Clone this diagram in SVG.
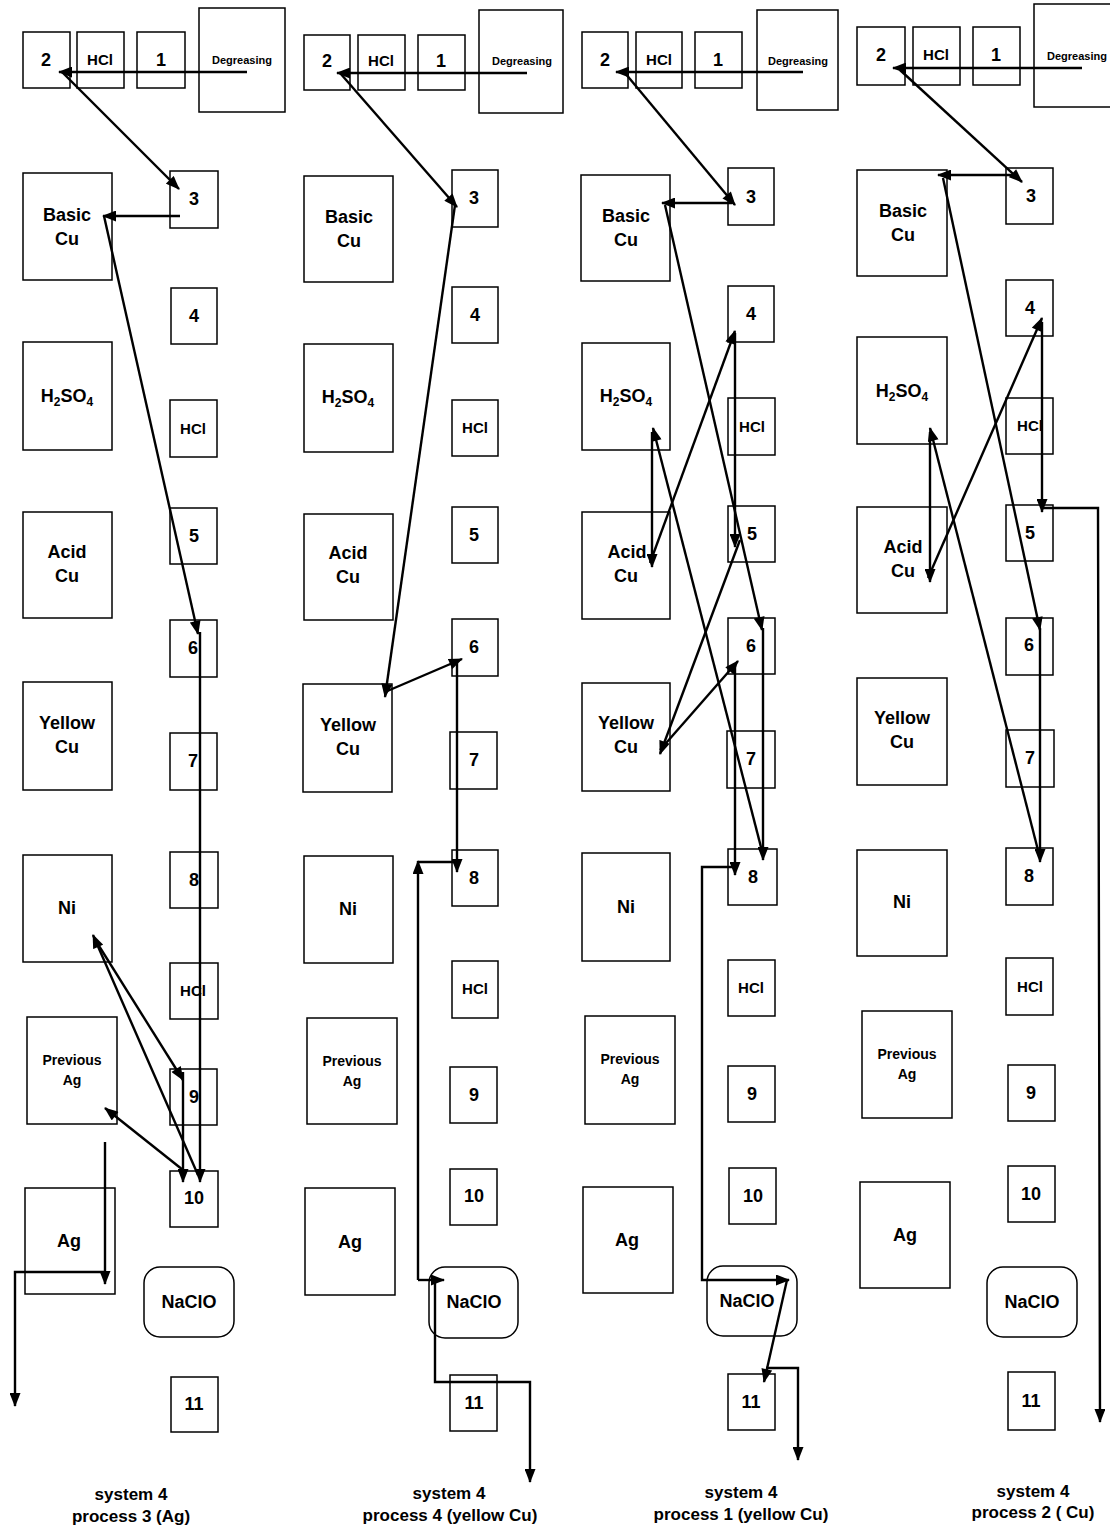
<svg xmlns="http://www.w3.org/2000/svg" width="1110" height="1530" viewBox="0 0 1110 1530">
<style>
.b{fill:#fff;stroke:#000;stroke-width:1.5}
.t{font-family:"Liberation Sans",Arial,sans-serif;font-weight:bold;text-anchor:middle;fill:#000;font-size:18px}
.n{font-size:18px}
.h{font-size:15px}
.d{font-size:11px}
.p{font-size:14px}
.l{font-size:17px}
.c{fill:none;stroke:#000;stroke-width:2.4}
.a{marker-end:url(#ah)}
</style>
<defs>
<marker id="ah" viewBox="0 0 14 11" refX="13" refY="5.5" markerWidth="15" markerHeight="11" markerUnits="userSpaceOnUse" orient="auto"><path d="M0,0 L14,5.5 L0,11 z" fill="#000"/></marker>
</defs>
<rect width="1110" height="1530" fill="#fff"/>

<!-- Column 1 -->
<g id="c1-2"><rect class="b" x="23" y="32" width="47" height="56"/><text class="t n" x="46" y="66">2</text></g>
<g id="c1-hcl0"><rect class="b" x="77" y="32" width="47" height="56"/><text class="t h" x="100" y="65">HCl</text></g>
<g id="c1-1"><rect class="b" x="137" y="32" width="48" height="56"/><text class="t n" x="161" y="66">1</text></g>
<g id="c1-deg"><rect class="b" x="199" y="8" width="86" height="104"/><text class="t d" x="242" y="64">Degreasing</text></g>
<g id="c1-3"><rect class="b" x="170" y="171" width="48" height="57"/><text class="t n" x="194" y="205">3</text></g>
<g id="c1-4"><rect class="b" x="171" y="288" width="46" height="56"/><text class="t n" x="194" y="322">4</text></g>
<g id="c1-hcl1"><rect class="b" x="170" y="400" width="47" height="57"/><text class="t h" x="193" y="434">HCl</text></g>
<g id="c1-5"><rect class="b" x="170" y="508" width="47" height="56"/><text class="t n" x="194" y="542">5</text></g>
<g id="c1-6"><rect class="b" x="170" y="620" width="47" height="57"/><text class="t n" x="193" y="654">6</text></g>
<g id="c1-7"><rect class="b" x="170" y="733" width="47" height="57"/><text class="t n" x="193" y="767">7</text></g>
<g id="c1-8"><rect class="b" x="170" y="852" width="48" height="56"/><text class="t n" x="194" y="886">8</text></g>
<g id="c1-hcl2"><rect class="b" x="170" y="963" width="48" height="56"/><text class="t h" x="193" y="996">HCl</text></g>
<g id="c1-9"><rect class="b" x="170" y="1069" width="47" height="56"/><text class="t n" x="194" y="1103">9</text></g>
<g id="c1-10"><rect class="b" x="170" y="1171" width="48" height="56"/><text class="t n" x="194" y="1204">10</text></g>
<g id="c1-naclo"><rect class="b" x="144" y="1267" width="90" height="70" rx="16"/><text class="t" x="189" y="1308">NaClO</text></g>
<g id="c1-11"><rect class="b" x="171" y="1377" width="47" height="55"/><text class="t n" x="194" y="1410">11</text></g>
<g id="c1-basic"><rect class="b" x="23" y="173" width="89" height="107"/><text class="t" x="67" y="221">Basic</text><text class="t" x="67" y="245">Cu</text></g>
<g id="c1-h2so4"><rect class="b" x="23" y="342" width="89" height="108"/><text class="t" x="67" y="402">H<tspan font-size="12" dy="4">2</tspan><tspan dy="-4">SO</tspan><tspan font-size="12" dy="4">4</tspan></text></g>
<g id="c1-acid"><rect class="b" x="23" y="512" width="89" height="106"/><text class="t" x="67" y="558">Acid</text><text class="t" x="67" y="582">Cu</text></g>
<g id="c1-yellow"><rect class="b" x="23" y="682" width="89" height="108"/><text class="t" x="67" y="729">Yellow</text><text class="t" x="67" y="753">Cu</text></g>
<g id="c1-ni"><rect class="b" x="23" y="855" width="89" height="107"/><text class="t" x="67" y="914">Ni</text></g>
<g id="c1-prev"><rect class="b" x="27" y="1017" width="90" height="107"/><text class="t p" x="72" y="1065">Previous</text><text class="t p" x="72" y="1085">Ag</text></g>
<g id="c1-ag"><rect class="b" x="25" y="1188" width="90" height="106"/><text class="t" x="69" y="1247">Ag</text></g>

<!-- Column 2 -->
<g id="c2-2"><rect class="b" x="304" y="35" width="46" height="55"/><text class="t n" x="327" y="67">2</text></g>
<g id="c2-hcl0"><rect class="b" x="358" y="35" width="47" height="55"/><text class="t h" x="381" y="66">HCl</text></g>
<g id="c2-1"><rect class="b" x="418" y="35" width="47" height="55"/><text class="t n" x="441" y="67">1</text></g>
<g id="c2-deg"><rect class="b" x="479" y="10" width="84" height="103"/><text class="t d" x="522" y="65">Degreasing</text></g>
<g id="c2-3"><rect class="b" x="452" y="170" width="46" height="57"/><text class="t n" x="474" y="204">3</text></g>
<g id="c2-4"><rect class="b" x="452" y="287" width="46" height="56"/><text class="t n" x="475" y="321">4</text></g>
<g id="c2-hcl1"><rect class="b" x="452" y="400" width="46" height="56"/><text class="t h" x="475" y="433">HCl</text></g>
<g id="c2-5"><rect class="b" x="452" y="507" width="46" height="56"/><text class="t n" x="474" y="541">5</text></g>
<g id="c2-6"><rect class="b" x="452" y="619" width="46" height="57"/><text class="t n" x="474" y="653">6</text></g>
<g id="c2-7"><rect class="b" x="450" y="732" width="47" height="57"/><text class="t n" x="474" y="766">7</text></g>
<g id="c2-8"><rect class="b" x="452" y="850" width="46" height="56"/><text class="t n" x="474" y="884">8</text></g>
<g id="c2-hcl2"><rect class="b" x="452" y="961" width="46" height="57"/><text class="t h" x="475" y="994">HCl</text></g>
<g id="c2-9"><rect class="b" x="450" y="1067" width="47" height="56"/><text class="t n" x="474" y="1101">9</text></g>
<g id="c2-10"><rect class="b" x="450" y="1169" width="47" height="56"/><text class="t n" x="474" y="1202">10</text></g>
<g id="c2-naclo"><rect class="b" x="429" y="1267" width="89" height="71" rx="16"/><text class="t" x="474" y="1308">NaClO</text></g>
<g id="c2-11"><rect class="b" x="450" y="1375" width="47" height="56"/><text class="t n" x="474" y="1409">11</text></g>
<g id="c2-basic"><rect class="b" x="304" y="176" width="89" height="106"/><text class="t" x="349" y="223">Basic</text><text class="t" x="349" y="247">Cu</text></g>
<g id="c2-h2so4"><rect class="b" x="304" y="344" width="89" height="108"/><text class="t" x="348" y="403">H<tspan font-size="12" dy="4">2</tspan><tspan dy="-4">SO</tspan><tspan font-size="12" dy="4">4</tspan></text></g>
<g id="c2-acid"><rect class="b" x="304" y="514" width="89" height="106"/><text class="t" x="348" y="559">Acid</text><text class="t" x="348" y="583">Cu</text></g>
<g id="c2-yellow"><rect class="b" x="303" y="684" width="89" height="108"/><text class="t" x="348" y="731">Yellow</text><text class="t" x="348" y="755">Cu</text></g>
<g id="c2-ni"><rect class="b" x="304" y="856" width="89" height="107"/><text class="t" x="348" y="915">Ni</text></g>
<g id="c2-prev"><rect class="b" x="307" y="1018" width="90" height="106"/><text class="t p" x="352" y="1066">Previous</text><text class="t p" x="352" y="1086">Ag</text></g>
<g id="c2-ag"><rect class="b" x="305" y="1188" width="90" height="107"/><text class="t" x="350" y="1248">Ag</text></g>

<!-- Column 3 -->
<g id="c3-2"><rect class="b" x="582" y="32" width="46" height="56"/><text class="t n" x="605" y="66">2</text></g>
<g id="c3-hcl0"><rect class="b" x="636" y="32" width="46" height="56"/><text class="t h" x="659" y="65">HCl</text></g>
<g id="c3-1"><rect class="b" x="695" y="32" width="47" height="56"/><text class="t n" x="718" y="66">1</text></g>
<g id="c3-deg"><rect class="b" x="757" y="10" width="81" height="100"/><text class="t d" x="798" y="65">Degreasing</text></g>
<g id="c3-3"><rect class="b" x="728" y="168" width="46" height="57"/><text class="t n" x="751" y="203">3</text></g>
<g id="c3-4"><rect class="b" x="728" y="286" width="46" height="56"/><text class="t n" x="751" y="320">4</text></g>
<g id="c3-hcl1"><rect class="b" x="728" y="398" width="47" height="57"/><text class="t h" x="752" y="432">HCl</text></g>
<g id="c3-5"><rect class="b" x="728" y="506" width="47" height="56"/><text class="t n" x="752" y="540">5</text></g>
<g id="c3-6"><rect class="b" x="728" y="618" width="47" height="56"/><text class="t n" x="751" y="652">6</text></g>
<g id="c3-7"><rect class="b" x="727" y="731" width="48" height="57"/><text class="t n" x="751" y="765">7</text></g>
<g id="c3-8"><rect class="b" x="728" y="849" width="49" height="56"/><text class="t n" x="753" y="883">8</text></g>
<g id="c3-hcl2"><rect class="b" x="728" y="960" width="47" height="56"/><text class="t h" x="751" y="993">HCl</text></g>
<g id="c3-9"><rect class="b" x="728" y="1066" width="47" height="56"/><text class="t n" x="752" y="1100">9</text></g>
<g id="c3-10"><rect class="b" x="729" y="1168" width="47" height="56"/><text class="t n" x="753" y="1202">10</text></g>
<g id="c3-naclo"><rect class="b" x="707" y="1266" width="90" height="70" rx="16"/><text class="t" x="747" y="1307">NaClO</text></g>
<g id="c3-11"><rect class="b" x="728" y="1374" width="47" height="56"/><text class="t n" x="751" y="1408">11</text></g>
<g id="c3-basic"><rect class="b" x="581" y="175" width="89" height="106"/><text class="t" x="626" y="222">Basic</text><text class="t" x="626" y="246">Cu</text></g>
<g id="c3-h2so4"><rect class="b" x="582" y="343" width="88" height="107"/><text class="t" x="626" y="402">H<tspan font-size="12" dy="4">2</tspan><tspan dy="-4">SO</tspan><tspan font-size="12" dy="4">4</tspan></text></g>
<g id="c3-acid"><rect class="b" x="582" y="512" width="88" height="107"/><text class="t" x="627" y="558">Acid</text><text class="t" x="626" y="582">Cu</text></g>
<g id="c3-yellow"><rect class="b" x="582" y="683" width="88" height="108"/><text class="t" x="626" y="729">Yellow</text><text class="t" x="626" y="753">Cu</text></g>
<g id="c3-ni"><rect class="b" x="582" y="853" width="88" height="108"/><text class="t" x="626" y="913">Ni</text></g>
<g id="c3-prev"><rect class="b" x="585" y="1016" width="90" height="108"/><text class="t p" x="630" y="1064">Previous</text><text class="t p" x="630" y="1084">Ag</text></g>
<g id="c3-ag"><rect class="b" x="583" y="1187" width="90" height="106"/><text class="t" x="627" y="1246">Ag</text></g>

<!-- Column 4 -->
<g id="c4-2"><rect class="b" x="857" y="27" width="48" height="58"/><text class="t n" x="881" y="61">2</text></g>
<g id="c4-hcl0"><rect class="b" x="913" y="27" width="47" height="58"/><text class="t h" x="936" y="60">HCl</text></g>
<g id="c4-1"><rect class="b" x="973" y="27" width="47" height="58"/><text class="t n" x="996" y="61">1</text></g>
<g id="c4-deg"><rect class="b" x="1034" y="4" width="82" height="103"/><text class="t d" x="1077" y="60">Degreasing</text></g>
<g id="c4-3"><rect class="b" x="1006" y="168" width="47" height="56"/><text class="t n" x="1031" y="202">3</text></g>
<g id="c4-4"><rect class="b" x="1006" y="280" width="47" height="56"/><text class="t n" x="1030" y="314">4</text></g>
<g id="c4-hcl1"><rect class="b" x="1006" y="398" width="47" height="56"/><text class="t h" x="1030" y="431">HCl</text></g>
<g id="c4-5"><rect class="b" x="1006" y="505" width="47" height="56"/><text class="t n" x="1030" y="539">5</text></g>
<g id="c4-6"><rect class="b" x="1006" y="618" width="47" height="57"/><text class="t n" x="1029" y="651">6</text></g>
<g id="c4-7"><rect class="b" x="1006" y="730" width="48" height="57"/><text class="t n" x="1030" y="764">7</text></g>
<g id="c4-8"><rect class="b" x="1006" y="848" width="47" height="57"/><text class="t n" x="1029" y="882">8</text></g>
<g id="c4-hcl2"><rect class="b" x="1006" y="958" width="47" height="57"/><text class="t h" x="1030" y="992">HCl</text></g>
<g id="c4-9"><rect class="b" x="1008" y="1065" width="47" height="56"/><text class="t n" x="1031" y="1099">9</text></g>
<g id="c4-10"><rect class="b" x="1008" y="1166" width="47" height="56"/><text class="t n" x="1031" y="1200">10</text></g>
<g id="c4-naclo"><rect class="b" x="987" y="1267" width="90" height="70" rx="16"/><text class="t" x="1032" y="1308">NaClO</text></g>
<g id="c4-11"><rect class="b" x="1008" y="1372" width="47" height="58"/><text class="t n" x="1031" y="1407">11</text></g>
<g id="c4-basic"><rect class="b" x="857" y="170" width="90" height="106"/><text class="t" x="903" y="217">Basic</text><text class="t" x="903" y="241">Cu</text></g>
<g id="c4-h2so4"><rect class="b" x="857" y="337" width="90" height="107"/><text class="t" x="902" y="397">H<tspan font-size="12" dy="4">2</tspan><tspan dy="-4">SO</tspan><tspan font-size="12" dy="4">4</tspan></text></g>
<g id="c4-acid"><rect class="b" x="857" y="507" width="90" height="106"/><text class="t" x="903" y="553">Acid</text><text class="t" x="903" y="577">Cu</text></g>
<g id="c4-yellow"><rect class="b" x="857" y="678" width="90" height="107"/><text class="t" x="902" y="724">Yellow</text><text class="t" x="902" y="748">Cu</text></g>
<g id="c4-ni"><rect class="b" x="857" y="850" width="90" height="106"/><text class="t" x="902" y="908">Ni</text></g>
<g id="c4-prev"><rect class="b" x="862" y="1011" width="90" height="107"/><text class="t p" x="907" y="1059">Previous</text><text class="t p" x="907" y="1079">Ag</text></g>
<g id="c4-ag"><rect class="b" x="860" y="1182" width="90" height="106"/><text class="t" x="905" y="1241">Ag</text></g>

<!-- Captions -->
<g id="captions">
<text class="t l" x="131" y="1500">system 4</text><text class="t l" x="131" y="1522">process 3 (Ag)</text>
<text class="t l" x="449" y="1499">system 4</text><text class="t l" x="450" y="1521">process 4 (yellow Cu)</text>
<text class="t l" x="741" y="1498">system 4</text><text class="t l" x="741" y="1520">process 1 (yellow Cu)</text>
<text class="t l" x="1033" y="1497">system 4</text><text class="t l" x="1033" y="1518">process 2 ( Cu)</text>
</g>

<!-- Connectors -->
<g id="connectors">
<!-- column 1 -->
<path class="c a" d="M247,72 L59,72"/>
<path class="c a" d="M62,72 L179,189"/>
<path class="c a" d="M180,216 L103,216"/>
<path class="c a" d="M104,216 L198,634"/>
<path class="c a" d="M200,632 L200,1182"/>
<path class="c a" d="M198,1175 L93,935"/>
<path class="c a" d="M94,938 L183,1080"/>
<path class="c a" d="M183,1072 L183,1182"/>
<path class="c a" d="M183,1170 L105,1108"/>
<path class="c a" d="M105,1142 L105,1284"/>
<path class="c a" d="M105,1272 L15,1272 L15,1406"/>
<!-- column 2 -->
<path class="c a" d="M527,73 L337,73"/>
<path class="c a" d="M340,73 L457,207"/>
<path class="c a" d="M455,205 L385,697"/>
<path class="c a" d="M385,692 L462,659"/>
<path class="c a" d="M457,660 L457,872"/>
<path class="c" d="M457,862 L418,862"/>
<path class="c a" d="M418,1280 L418,861"/>
<path class="c a" d="M418,1280 L444,1280"/>
<path class="c a" d="M435,1280 L435,1382 L530,1382 L530,1482"/>
<!-- column 3 -->
<path class="c a" d="M803,72 L616,72"/>
<path class="c a" d="M625,73 L735,205"/>
<path class="c a" d="M732,203 L662,203"/>
<path class="c a" d="M665,205 L762,630"/>
<path class="c a" d="M763,628 L763,860"/>
<path class="c a" d="M763,855 L653,428"/>
<path class="c a" d="M652,432 L652,567"/>
<path class="c a" d="M650,563 L735,331"/>
<path class="c a" d="M735,333 L735,547"/>
<path class="c a" d="M740,540 L660,754"/>
<path class="c a" d="M660,750 L738,661"/>
<path class="c a" d="M735,663 L735,875"/>
<path class="c a" d="M735,867 L702,867 L702,1280 L789,1280"/>
<path class="c a" d="M787,1280 L764,1382"/>
<path class="c a" d="M766,1368 L798,1368 L798,1460"/>
<!-- column 4 -->
<path class="c a" d="M1082,68 L893,68"/>
<path class="c a" d="M900,70 L1022,182"/>
<path class="c a" d="M1018,175 L938,175"/>
<path class="c a" d="M943,178 L1040,630"/>
<path class="c a" d="M1040,628 L1040,862"/>
<path class="c a" d="M1040,858 L930,428"/>
<path class="c a" d="M930,432 L930,582"/>
<path class="c a" d="M928,578 L1042,318"/>
<path class="c a" d="M1042,322 L1042,512"/>
<path class="c a" d="M1042,508 L1098,508 L1100,1422"/>
</g>
</svg>
